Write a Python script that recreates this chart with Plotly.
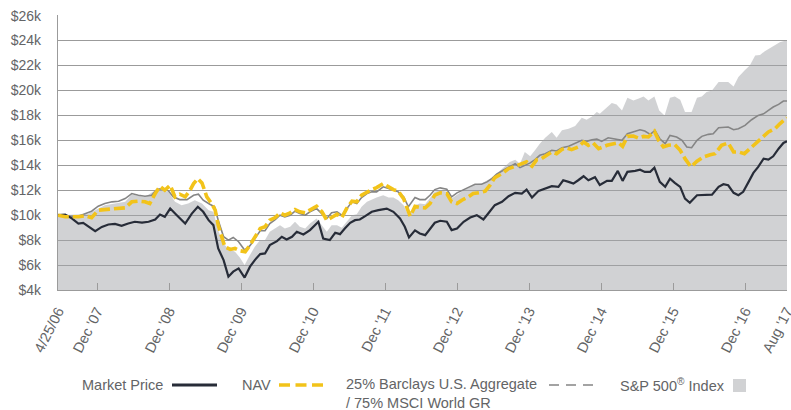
import plotly.graph_objects as go

# ---------------- data (values in $ thousands, x in months from inception) ----------------
tick_pos = [0, 6.5, 18.5, 30.5, 42.5, 54.5, 66.5, 78.5, 90.5, 102.5, 114.5, 121.45]
tick_text = ["4/25/06", "Dec '07", "Dec '08", "Dec '09", "Dec '10", "Dec '11",
             "Dec '12", "Dec '13", "Dec '14", "Dec '15", "Dec '16", "Aug '17"]
y_ticks = [4, 6, 8, 10, 12, 14, 16, 18, 20, 22, 24, 26]
y_tick_text = ["$%dk" % v for v in y_ticks]

mp_x = [0,1.2,2.3,3.4,4.2,5.1,6.2,7.3,8.4,9.5,10.6,11.7,12.8,14.0,15.1,16.2,17.0,17.8,18.7,19.8,21.2,22.3,23.3,24.2,25.1,25.9,26.7,27.6,28.4,29.2,30.1,31.1,32.0,32.8,33.7,34.5,35.3,36.5,37.3,38.1,39.0,39.8,40.9,42.0,43.4,44.2,45.3,46.2,47.0,47.8,48.7,49.5,50.3,51.2,52.3,53.4,54.8,55.9,57.0,57.8,58.5,59.5,60.3,61.2,62.0,62.8,63.7,64.8,65.6,66.5,67.6,68.7,69.8,70.9,71.7,72.8,74.0,75.1,76.2,77.3,78.1,79.0,80.1,81.2,82.3,83.4,84.2,85.1,85.9,86.7,87.6,88.4,89.5,90.3,91.5,92.3,93.3,94.1,94.9,96.2,97.0,97.8,98.7,99.4,100.3,101.2,102.0,102.8,103.7,104.5,105.3,106.5,107.8,109.0,110.1,110.9,111.7,112.6,113.4,114.2,115.1,115.9,116.7,117.6,118.4,119.2,120.1,120.9,121.5]
mp_y = [10.0,10.05,9.74,9.33,9.38,9.06,8.72,9.06,9.25,9.3,9.14,9.33,9.47,9.4,9.47,9.65,10.05,9.87,10.53,10.0,9.33,10.13,10.67,10.27,9.6,9.2,7.33,6.4,5.07,5.47,5.73,5.0,5.87,6.4,6.88,6.93,7.6,7.92,8.27,8.05,8.27,8.67,8.45,8.8,9.47,8.13,8.0,8.59,8.48,8.93,9.39,9.6,9.65,9.92,10.27,10.4,10.53,10.27,9.73,9.07,8.21,8.78,8.53,8.4,8.93,9.39,9.55,9.47,8.8,8.93,9.47,9.81,10.0,9.65,10.13,10.8,11.07,11.52,11.79,11.73,12.05,11.41,11.95,12.13,12.32,12.27,12.8,12.67,12.53,12.8,13.12,12.8,13.04,12.42,12.75,12.75,13.55,12.75,13.47,13.55,13.65,13.47,13.47,13.81,12.67,12.27,12.93,12.59,12.27,11.33,10.99,11.6,11.6,11.65,12.27,12.48,12.4,11.79,11.6,11.87,12.67,13.39,13.87,14.53,14.45,14.72,15.33,15.79,15.92]

nav_x = [0,1.2,2.3,3.4,4.5,5.6,6.7,7.8,9.0,10.1,11.2,12.3,13.4,14.5,15.3,16.2,17.0,17.8,18.7,19.5,20.3,21.2,22.0,22.6,23.3,24.0,24.8,25.6,26.2,26.7,27.3,27.8,28.7,29.5,30.3,31.2,32.0,32.8,33.7,34.5,35.3,36.2,37.0,37.8,38.7,39.5,40.3,41.2,42.0,43.1,44.0,44.8,45.6,46.5,47.3,48.1,49.0,49.8,50.6,51.5,52.3,53.1,54.2,55.1,55.9,56.7,57.6,58.1,58.7,59.5,60.3,61.2,62.0,62.8,63.7,64.8,65.6,66.5,67.3,68.4,69.2,70.3,71.2,72.0,72.8,74.0,75.1,76.2,77.3,78.1,79.0,79.8,80.6,81.5,82.3,83.1,84.0,84.8,85.6,86.7,87.6,88.4,89.2,90.1,91.5,92.6,93.4,94.1,94.9,95.9,96.7,97.6,98.4,99.4,100.1,100.9,101.7,102.8,103.7,104.5,105.5,106.5,107.6,108.7,109.5,110.6,111.7,112.6,113.4,114.4,115.3,116.2,117.3,118.4,119.5,120.3,121.5]
nav_y = [10.0,9.87,9.87,9.87,9.95,9.79,10.4,10.45,10.45,10.53,10.59,11.07,11.12,11.07,10.93,11.73,12.32,12.0,12.4,11.47,11.68,11.47,12.0,12.53,12.93,12.59,11.47,10.93,10.4,9.2,8.27,7.47,7.25,7.33,7.15,7.07,7.6,8.27,8.93,9.07,9.6,9.81,10.19,10.0,10.19,10.45,10.27,10.19,10.4,10.72,10.27,9.6,9.81,10.08,9.81,10.53,11.12,11.07,11.6,11.87,12.05,12.21,12.53,12.27,12.05,11.92,11.33,10.67,9.92,10.7,10.61,10.59,10.93,11.6,11.79,11.73,11.07,10.93,11.2,11.47,11.73,11.81,11.92,12.4,13.01,13.33,13.73,13.92,14.08,14.27,13.92,14.45,14.53,14.8,15.07,14.93,15.28,15.39,15.25,15.47,15.87,15.6,15.79,15.33,15.6,15.73,15.81,15.52,16.32,16.35,16.19,16.32,16.27,16.72,16.0,15.47,15.6,15.65,15.2,14.53,13.87,14.32,14.67,14.85,14.93,15.6,15.79,15.07,15.07,14.93,15.33,15.73,16.27,16.67,16.93,17.33,17.81]

bm_x = [0,2.3,3.4,4.5,5.6,6.7,7.8,9.0,10.1,11.2,12.3,13.4,14.5,15.6,16.5,17.3,18.4,19.2,20.3,21.5,22.6,23.4,24.2,25.3,26.1,26.7,27.6,28.4,29.2,30.1,31.1,32.0,32.8,33.7,34.5,35.3,36.2,37.0,37.8,38.7,39.5,40.3,41.2,42.0,43.1,44.0,44.8,45.6,46.5,47.3,48.1,49.0,49.8,50.6,51.5,52.3,53.1,54.2,55.1,55.9,56.7,57.6,58.4,59.5,60.3,61.2,62.0,62.8,63.7,64.8,65.6,66.5,67.6,68.7,69.5,70.6,71.5,72.3,73.1,74.2,75.3,76.2,77.0,77.8,78.7,79.5,80.3,81.2,82.3,83.1,84.0,85.1,86.2,87.3,88.1,89.0,89.8,90.6,91.7,92.8,94.0,94.9,95.9,97.0,97.8,98.7,99.5,100.3,101.2,102.0,103.1,104.0,104.8,105.6,106.5,107.3,108.4,109.2,110.1,110.9,111.7,112.6,113.4,114.5,115.6,116.7,117.6,118.4,119.2,120.1,120.9,121.5]
bm_y = [10.0,9.87,9.92,10.13,10.32,10.72,10.93,11.07,11.12,11.33,11.73,11.6,11.52,11.6,12.05,12.13,11.95,11.47,11.25,11.25,11.6,11.68,11.2,10.88,10.67,9.6,8.27,8.0,8.21,7.87,7.2,7.55,8.13,8.75,8.75,9.33,9.65,10.0,9.87,10.0,10.32,10.13,10.0,10.27,10.53,10.13,9.73,10.19,10.27,10.0,10.53,11.07,10.93,11.41,11.73,11.87,11.87,12.27,12.13,12.0,11.87,11.47,10.67,11.41,11.25,11.25,11.6,12.05,12.19,12.08,11.47,11.79,12.05,12.27,12.48,12.48,12.67,12.93,13.28,13.6,13.87,14.13,13.81,14.0,14.19,14.45,14.8,14.93,15.2,15.15,15.41,15.52,15.73,16.0,15.92,16.05,16.1,15.92,16.21,16.08,16.0,16.53,16.67,16.85,16.75,16.48,16.8,16.13,15.73,16.4,16.27,16.0,15.47,15.41,16.0,16.32,16.48,16.53,17.01,17.07,17.07,16.85,16.93,17.2,17.65,18.0,18.13,18.4,18.67,18.88,19.15,19.15]

sp_x = [0,5.0,7.8,11.2,12.3,14.5,16.2,17.3,18.4,19.5,20.6,21.7,22.8,24.0,25.1,25.9,26.7,27.6,28.4,29.5,30.3,31.1,32.0,32.8,33.7,34.5,35.3,36.2,37.0,37.8,38.7,39.5,40.3,41.2,42.0,43.1,44.0,44.8,45.6,46.5,47.3,48.1,49.0,49.8,50.6,51.5,52.3,53.1,54.2,55.1,55.9,56.7,57.6,58.4,59.5,60.3,61.2,62.0,62.8,63.7,64.8,65.6,66.5,67.6,68.7,69.5,70.6,71.5,72.3,73.1,74.2,75.3,76.2,77.0,77.8,78.7,79.5,80.3,81.2,82.3,83.1,84.0,85.1,86.2,87.3,88.1,89.0,89.8,90.3,91.2,92.3,93.1,94.0,94.9,95.9,96.7,97.6,98.4,99.4,100.2,101.1,102.0,102.8,103.7,104.5,105.6,106.5,107.3,108.1,109.0,110.1,110.9,111.7,112.6,113.4,114.5,115.3,116.2,117.0,117.8,118.7,119.5,120.3,121.3,121.5]
sp_y = [10.0,10.1,10.8,11.07,11.65,11.45,12.0,12.05,11.85,11.07,10.8,10.93,11.2,10.93,10.4,10.27,8.8,7.68,7.33,7.07,6.61,6.0,6.8,7.47,8.0,8.0,8.67,8.93,9.2,8.93,9.07,9.47,9.07,8.93,9.33,9.73,9.2,8.67,9.2,9.2,9.0,9.47,10.0,10.08,10.67,11.07,11.25,11.41,11.6,11.41,11.41,11.2,10.8,10.0,10.8,10.93,10.88,11.33,11.87,12.0,11.87,11.33,11.6,12.0,12.21,12.48,12.53,12.8,13.01,13.33,13.81,14.27,14.45,14.13,15.07,14.72,15.2,15.73,16.21,16.67,16.21,16.8,16.93,17.15,17.81,17.65,17.92,18.27,18.13,18.53,18.99,18.88,18.4,19.41,19.2,19.33,19.52,19.2,19.52,18.4,18.0,19.41,19.52,19.25,18.27,18.27,19.41,19.52,19.87,20.0,20.67,20.67,20.67,20.32,21.07,21.65,22.0,22.8,22.84,23.15,23.41,23.6,23.87,24.0,24.0]

legend_labels = ["Market Price", "NAV", "25% Barclays U.S. Aggregate<br>/ 75% MSCI World GR",
                 "S&P 500<sup>®</sup> Index"]

# ---------------- styling ----------------
W, H = 791, 410
ML, MR, MT, MB = 58, 4, 15, 120
PW, PH = W - ML - MR, H - MT - MB
FONT = "Liberation Sans, Arial, Helvetica, sans-serif"
TXT = "#636466"
GRID = "#9b9b9b"
C_MP = "#272c38"
C_NAV = "#f2c31a"
C_BM = "#858585"


def px(p):
    return (p - ML) / PW


def py(p):
    return (H - MB - p) / PH


fig = go.Figure()
fig.add_trace(go.Scatter(x=sp_x, y=sp_y, mode="lines", line=dict(width=0, color="rgba(0,0,0,0)"),
                         fill="tozeroy", fillcolor="rgba(163,165,169,0.5)", name="S&P 500", showlegend=False))
fig.add_trace(go.Scatter(x=bm_x, y=bm_y, mode="lines", line=dict(width=1.6, color=C_BM),
                         name="Benchmark", showlegend=False))
fig.add_trace(go.Scatter(x=mp_x, y=mp_y, mode="lines", line=dict(width=2.2, color=C_MP),
                         name="Market Price", showlegend=False))
fig.add_trace(go.Scatter(x=nav_x, y=nav_y, mode="lines", line=dict(width=3.6, color=C_NAV, dash="11px,4px"),
                         name="NAV", showlegend=False))

fig.update_layout(
    width=W, height=H,
    margin=dict(l=ML, r=MR, t=MT, b=MB, pad=0, autoexpand=False),
    paper_bgcolor="white", plot_bgcolor="white",
    font=dict(family=FONT, color=TXT, size=14),
    showlegend=False,
    xaxis=dict(range=[0, 121.5], tickvals=tick_pos, ticktext=tick_text, tickangle=-63,
               showgrid=False, zeroline=False, showline=True, linecolor=GRID, linewidth=1.3,
               ticks="inside", ticklen=7, tickwidth=1.2, tickcolor=GRID, automargin=False,
               ticklabeloverflow="allow",
               tickfont=dict(size=14.5, color=TXT), ticklabelstandoff=6),
    yaxis=dict(range=[4, 26.05], tickvals=y_ticks, ticktext=y_tick_text, automargin=False,
               showgrid=True, gridcolor=GRID, gridwidth=1.3, zeroline=False,
               showline=True, linecolor=GRID, linewidth=1.3, ticks="",
               tickfont=dict(size=14, color=TXT), ticklabelstandoff=13),
)

# custom legend (text before symbol, as in the original)
ann = []
shapes = []
ly = 385
ann.append(dict(x=px(80), y=py(ly), text=legend_labels[0], xanchor="left", yanchor="middle"))
shapes.append(dict(type="line", xref="paper", yref="paper", x0=px(172), x1=px(217), y0=py(ly), y1=py(ly),
                   line=dict(color=C_MP, width=3.2)))
ann.append(dict(x=px(240), y=py(ly), text=legend_labels[1], xanchor="left", yanchor="middle"))
shapes.append(dict(type="line", xref="paper", yref="paper", x0=px(279), x1=px(323), y0=py(ly), y1=py(ly),
                   line=dict(color=C_NAV, width=3.6, dash="11px,5.5px")))
ann.append(dict(x=px(344), y=py(ly - 11), text=legend_labels[2], xanchor="left", yanchor="top", align="left"))
shapes.append(dict(type="line", xref="paper", yref="paper", x0=px(549), x1=px(593), y0=py(ly), y1=py(ly),
                   line=dict(color=C_BM, width=1.6, dash="10px,7px")))
ann.append(dict(x=px(618), y=py(ly), text=legend_labels[3], xanchor="left", yanchor="middle"))
shapes.append(dict(type="rect", xref="paper", yref="paper", x0=px(733), x1=px(746), y0=py(392), y1=py(379),
                   line=dict(width=0), fillcolor="#d1d2d4"))
for a in ann:
    a.update(xref="paper", yref="paper", showarrow=False, font=dict(size=14.5, color=TXT, family=FONT))
fig.update_layout(annotations=ann, shapes=shapes)

# remove the page's default body margin so the figure sits at the window's top-left corner
fig.write_html("out.html", config={"displayModeBar": False},
               post_script="document.body.style.margin='0';document.body.style.overflow='hidden';")
